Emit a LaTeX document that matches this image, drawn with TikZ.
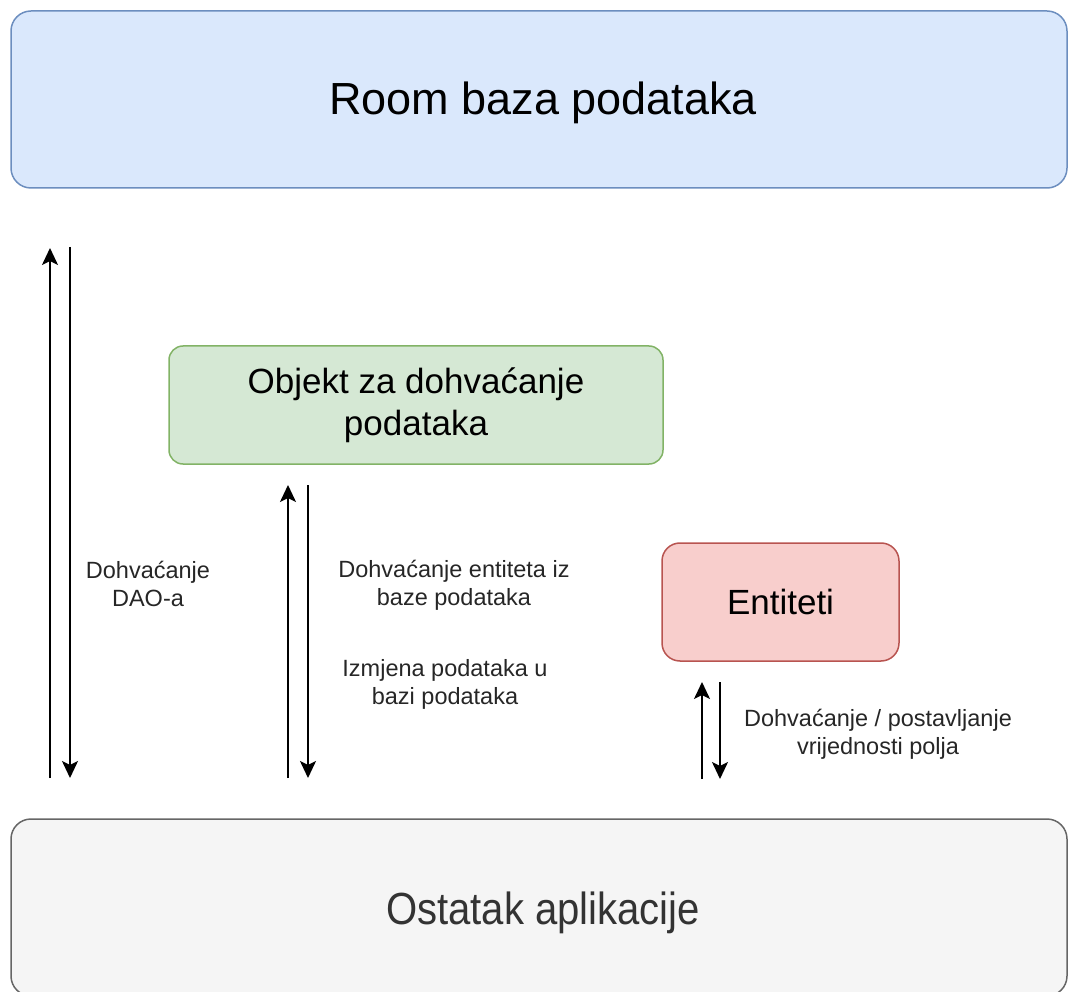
\documentclass[tikz,border=0pt]{standalone}
\usepackage{fontspec}
\setmainfont{Liberation Sans}
\usetikzlibrary{arrows.meta}
\definecolor{bluefill}{HTML}{DAE8FC}
\definecolor{bluedraw}{HTML}{6C8EBF}
\definecolor{greenfill}{HTML}{D5E8D4}
\definecolor{greendraw}{HTML}{82B366}
\definecolor{redfill}{HTML}{F8CECC}
\definecolor{reddraw}{HTML}{B85450}
\definecolor{grayfill}{HTML}{F5F5F5}
\definecolor{graydraw}{HTML}{666666}
\definecolor{graytext}{HTML}{333333}
\tikzset{
  box/.style={draw, line width=1.5pt, inner sep=0pt, outer sep=0pt, align=center},
  bigtext/.style={font=\fontsize{45}{54}\selectfont},
  midtext/.style={font=\fontsize{35}{40}\selectfont},
  lbl/.style={font=\fontsize{23.5}{28}\selectfont, text=black!85, align=center, inner sep=0pt},
  flow/.style={line width=1.8pt, -{Stealth[length=17pt, width=16pt, inset=4pt]}},
}
\begin{document}
\begin{tikzpicture}[x=1pt, y=-1pt]
\useasboundingbox (0,0) rectangle (1069,992);

\node[box, bigtext, fill=bluefill, draw=bluedraw, rounded corners=20pt,
      minimum width=1056pt, minimum height=177pt] (room) at (539,99.5)
      {\hspace*{8pt}\raisebox{-15pt}[0pt][0pt]{Room baza podataka}};
\node[box, bigtext, fill=grayfill, draw=graydraw, text=graytext, rounded corners=20pt,
      minimum width=1056pt, minimum height=177pt] (ostatak) at (539,907.5)
      {\hspace*{8pt}\raisebox{-17pt}[0pt][0pt]{\scalebox{0.89}[1]{Ostatak aplikacije}}};
\node[box, midtext, fill=greenfill, draw=greendraw, rounded corners=14pt,
      minimum width=494pt, minimum height=118pt] (dao) at (416,405)
      {\raisebox{-31pt}[0pt][0pt]{\shortstack{Objekt za dohvaćanje\\[7pt]podataka}}};
\node[box, midtext, fill=redfill, draw=reddraw, rounded corners=18pt,
      minimum width=237pt, minimum height=118pt] (ent) at (780.5,602)
      {\raisebox{-12.5pt}[0pt][0pt]{Entiteti}};

% arrow end points
\coordinate (l1s) at (50,778);  \coordinate (l1e) at (50,248);
\coordinate (l2s) at (70,247);  \coordinate (l2e) at (70,778);
\coordinate (m1s) at (288,778); \coordinate (m1e) at (288,485);
\coordinate (m2s) at (308,485); \coordinate (m2e) at (308,778);
\coordinate (r1s) at (702,779); \coordinate (r1e) at (702,682);
\coordinate (r2s) at (720,682); \coordinate (r2e) at (720,779);

\draw[flow] (l1s) -- (l1e);
\draw[flow] (l2s) -- (l2e);
\draw[flow] (m1s) -- (m1e);
\draw[flow] (m2s) -- (m2e);
\draw[flow] (r1s) -- (r1e);
\draw[flow] (r2s) -- (r2e);

\node[lbl] (lbla) at (148,584) {Dohvaćanje\\DAO-a};
\node[lbl] (lblb) at (454,585) {Dohvaćanje entiteta iz\\baze podataka};
\node[lbl] (lblc) at (445,684) {Izmjena podataka u\\bazi podataka};
\node[lbl] (lbld) at (878,734) {Dohvaćanje / postavljanje\\vrijednosti polja};
\end{tikzpicture}
\end{document}
